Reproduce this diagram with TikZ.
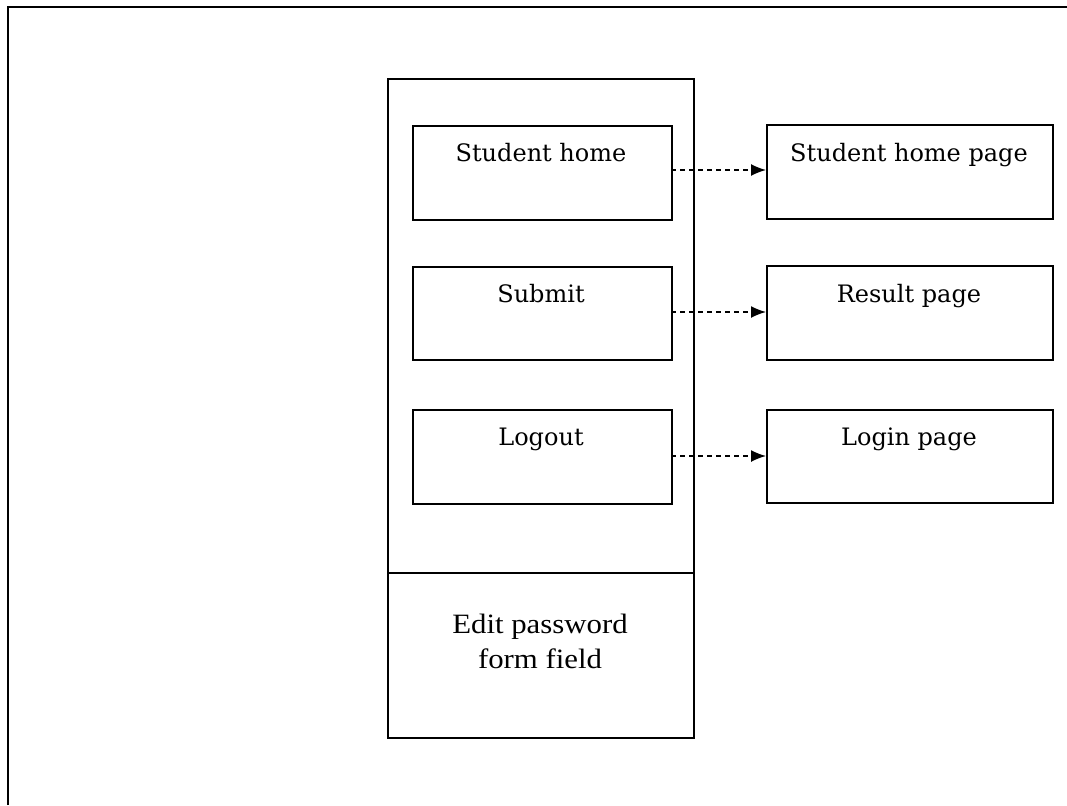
\documentclass[tikz,border=0pt]{standalone}
\usepackage{fontspec}
\newfontfamily\slabfont{DejaVu Serif}
\newfontfamily\bookfont[FakeStretch=1.1]{Liberation Serif}
\usetikzlibrary{arrows.meta}
\tikzset{
  boxline/.style={draw=black, line width=1.8pt},
  framebox/.style={boxline, rectangle, inner sep=0pt, anchor=north west},
  lbl/.style={font=\slabfont\fontsize{24}{28}\selectfont, anchor=base, inner sep=0pt},
  plainlbl/.style={font=\bookfont\fontsize{28}{35}\selectfont, anchor=base, inner sep=0pt},
  linkarrow/.style={draw=black, line width=1.5pt, dash pattern=on 5pt off 4pt, -{Latex[length=15pt,width=12pt]}}
}
\begin{document}
\begin{tikzpicture}[x=1pt,y=-1pt]
\useasboundingbox (0,0) rectangle (1067,805);
% page frame (cropped)
\coordinate (ftl) at (8,7);
\coordinate (ftr) at (1067,7);
\coordinate (fbl) at (8,805);
\draw[line width=2.4pt] (fbl) -- (ftl) -- (ftr);
% outer container
\node[framebox, minimum width=306pt, minimum height=659pt] (outer) at (387,78) {};
\coordinate (divL) at (387,573);
\coordinate (divR) at (693,573);
\draw[boxline] (divL) -- (divR);
% inner boxes
\node[framebox, minimum width=259pt, minimum height=94pt] (sh) at (412,125) {};
\node[framebox, minimum width=259pt, minimum height=93pt] (sub) at (412,266) {};
\node[framebox, minimum width=259pt, minimum height=94pt] (lo) at (412,409) {};
% target boxes
\node[framebox, minimum width=286pt, minimum height=94pt] (shp) at (766,124) {};
\node[framebox, minimum width=286pt, minimum height=94pt] (rp) at (766,265) {};
\node[framebox, minimum width=286pt, minimum height=93pt] (lp) at (766,409) {};
% labels
\node[lbl] (tsh) at (541,161) {Student home};
\node[lbl] (tsub) at (541,302) {Submit};
\node[lbl] (tlo) at (541,445) {Logout};
\node[lbl] (tshp) at (909,161) {Student home page};
\node[lbl] (trp) at (909,302) {Result page};
\node[lbl] (tlp) at (909,445) {Login page};
\node[plainlbl] (tedit) at (540,633) {Edit password};
\node[plainlbl] (tform) at (540,668) {form field};
% connectors
\coordinate (a1) at (671,170);
\coordinate (a2) at (671,312);
\coordinate (a3) at (671,456);
\draw[linkarrow] (a1) -- (a1 -| shp.west);
\draw[linkarrow] (a2) -- (a2 -| rp.west);
\draw[linkarrow] (a3) -- (a3 -| lp.west);
\end{tikzpicture}
\end{document}
